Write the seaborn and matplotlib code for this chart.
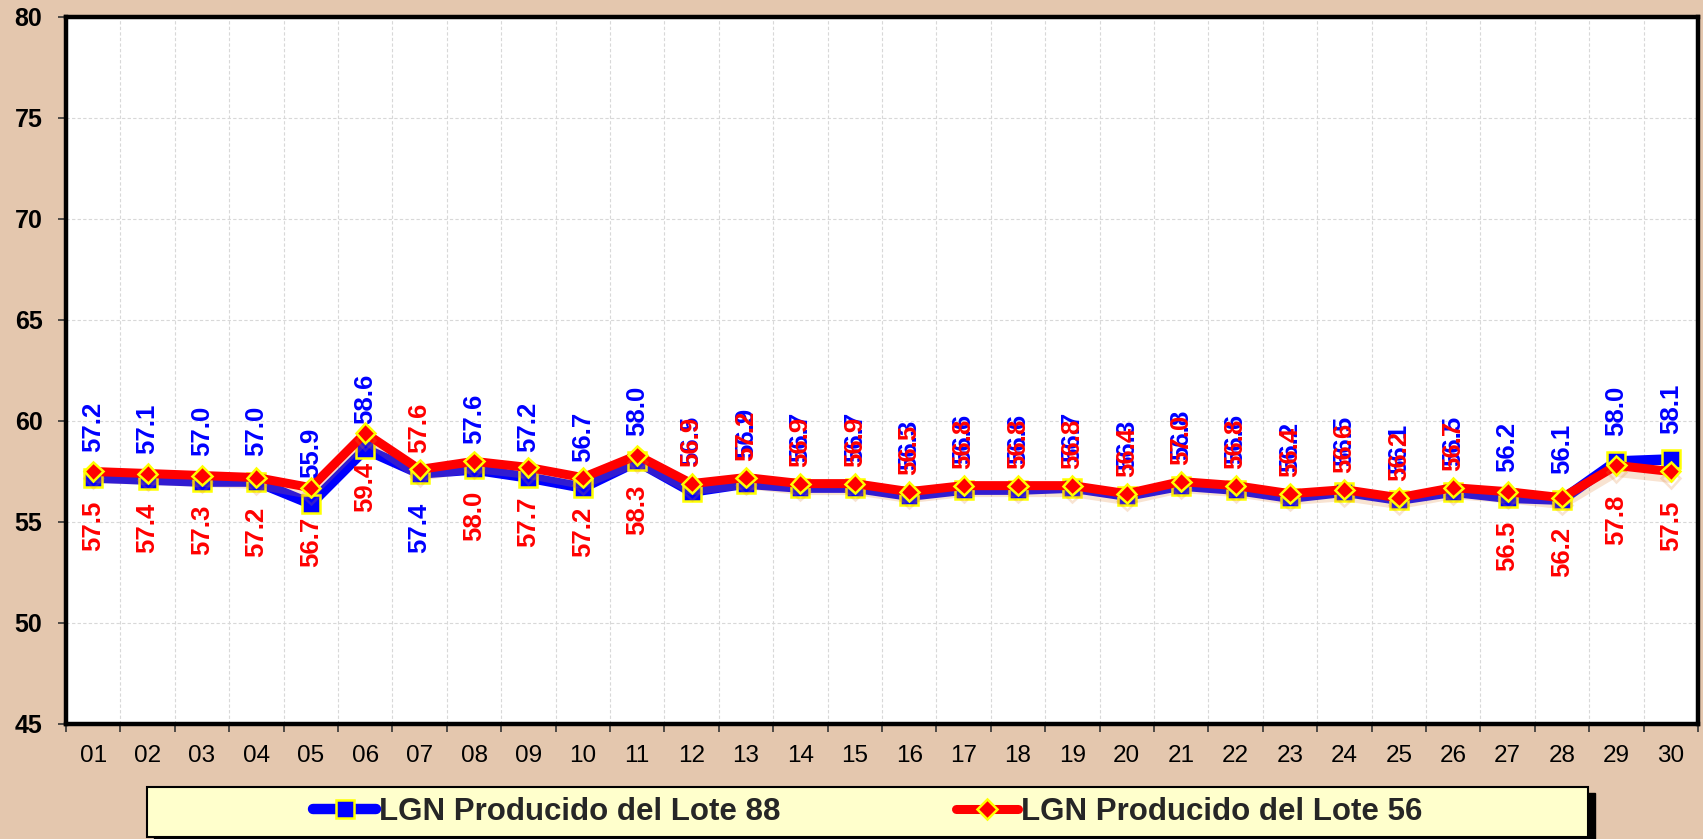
import matplotlib
matplotlib.use('Agg')
import matplotlib.pyplot as plt
import seaborn as sns
import pandas as pd
import numpy as np
from matplotlib import patheffects as pe
from matplotlib.lines import Line2D
from matplotlib.patches import Rectangle

# ---------------- data ----------------
days = ['01', '02', '03', '04', '05', '06', '07', '08', '09', '10',
        '11', '12', '13', '14', '15', '16', '17', '18', '19', '20',
        '21', '22', '23', '24', '25', '26', '27', '28', '29', '30']
lote88 = [57.2, 57.1, 57.0, 57.0, 55.9, 58.6, 57.4, 57.6, 57.2, 56.7,
          58.0, 56.5, 56.9, 56.7, 56.7, 56.3, 56.6, 56.6, 56.7, 56.3,
          56.8, 56.6, 56.2, 56.5, 56.1, 56.5, 56.2, 56.1, 58.0, 58.1]
lote56 = [57.5, 57.4, 57.3, 57.2, 56.7, 59.4, 57.6, 58.0, 57.7, 57.2,
          58.3, 56.9, 57.2, 56.9, 56.9, 56.5, 56.8, 56.8, 56.8, 56.4,
          57.0, 56.8, 56.4, 56.6, 56.2, 56.7, 56.5, 56.2, 57.8, 57.5]
yticks = [45, 50, 55, 60, 65, 70, 75, 80]
name88 = 'LGN Producido del Lote 88'
name56 = 'LGN Producido del Lote 56'

# label placement (style): 'a' above, 'b' below
side88 = ['a'] * 30
side88[6] = 'b'
side56 = ['b'] * 30
side56[6] = 'a'
for k in range(11, 26):
    side56[k] = 'a'

BG = '#E4C7AE'
BLUE = '#0000FF'
RED = '#FF0000'
YEL = '#FFFF00'

sns.set_theme(style='white')
plt.rcParams['font.family'] = ['Liberation Sans', 'DejaVu Sans']

fig = plt.figure(figsize=(17.03, 8.39), dpi=100, facecolor=BG)
ax = fig.add_axes([66 / 1703, (839 - 724) / 839, (1698 - 66) / 1703, (724 - 17) / 839])
ax.set_facecolor('white')

pos = np.arange(len(days))
df88 = pd.DataFrame({'pos': pos, 'val': lote88})
df56 = pd.DataFrame({'pos': pos, 'val': lote56})

sns.lineplot(data=df88, x='pos', y='val', ax=ax, color=BLUE, linewidth=7.5,
             marker='s', markersize=13, mec=YEL, mew=1.8, zorder=3)
sns.lineplot(data=df56, x='pos', y='val', ax=ax, color=RED, linewidth=6.5,
             marker='D', markersize=9.8, mec=YEL, mew=1.8, zorder=4,
             path_effects=[pe.SimpleLineShadow(offset=(0, -5), shadow_color='#E08030', alpha=0.22),
                           pe.Normal()])

# data labels
for vals, sides, col, z in ((lote88, side88, BLUE, 6), (lote56, side56, RED, 7)):
    for i, v in enumerate(vals):
        if sides[i] == 'a':
            off = 18.5 if col == BLUE else 12
            ax.annotate(f'{v:.1f}', (i, v), xytext=(0, off), textcoords='offset points',
                        rotation=90, ha='center', va='bottom', color=col,
                        fontsize=18.5, fontweight='bold', zorder=z)
        else:
            ax.annotate(f'{v:.1f}', (i, v), xytext=(0, -21), textcoords='offset points',
                        rotation=90, ha='center', va='top', color=col,
                        fontsize=18.5, fontweight='bold', zorder=z)

ax.set_xlabel('')
ax.set_ylabel('')
ax.set_ylim(yticks[0], yticks[-1])
ax.set_yticks(yticks)
ax.set_yticklabels([str(t) for t in yticks])
ax.set_xlim(-0.5, len(days) - 0.5)
ax.set_xticks(pos)
ax.set_xticklabels(days)
ax.set_xticks(np.arange(-0.5, len(days), 1), minor=True)

ax.tick_params(axis='x', which='major', length=0, pad=15, labelsize=17.5, labelcolor='black')
ax.tick_params(axis='x', which='minor', length=6, width=1.2, color='#333333', direction='out', bottom=True)
ax.tick_params(axis='y', which='major', length=6, width=1.2, color='#333333', direction='out',
               pad=11, left=True, labelsize=18, labelcolor='black')

ax.grid(False)
ax.yaxis.grid(True, color='#D8D8D8', linestyle=(0, (3, 2)), linewidth=0.8)
ax.xaxis.grid(True, which='minor', color='#D8D8D8', linestyle=(0, (3, 2)), linewidth=0.8)
ax.set_axisbelow(True)
for s in ax.spines.values():
    s.set_color('black')
    s.set_linewidth(3.2)
    s.set_zorder(10)

# legend box with shadow
bx0, bx1, by0, by1 = 147, 1588, 2, 52
fig.add_artist(Rectangle(((bx0 + 7) / 1703, (by0 - 6) / 839), (bx1 - bx0) / 1703, (by1 - by0) / 839,
                         transform=fig.transFigure, facecolor='black', edgecolor='black', zorder=1))
fig.add_artist(Rectangle((bx0 / 1703, by0 / 839), (bx1 - bx0) / 1703, (by1 - by0) / 839,
                         transform=fig.transFigure, facecolor='#FFFFCC', edgecolor='black',
                         linewidth=1.5, zorder=2))
handles = [Line2D([0], [0], color=BLUE, lw=7.5, marker='s', ms=13, mec=YEL, mew=1.8),
           Line2D([0], [0], color=RED, lw=6.5, marker='D', ms=9.8, mec=YEL, mew=1.8)]
fig.legend(handles, [name88, name56], loc='center',
           bbox_to_anchor=(868 / 1703, 27 / 839), ncol=2, frameon=False,
           prop=dict(weight='bold', size=22.5), handlelength=2.0, handletextpad=0.1,
           columnspacing=5.6, borderpad=0.1)

fig.canvas.draw()
for t in ax.get_yticklabels():
    t.set_fontweight('bold')

fig.savefig('out.png', dpi=100, facecolor=BG)
